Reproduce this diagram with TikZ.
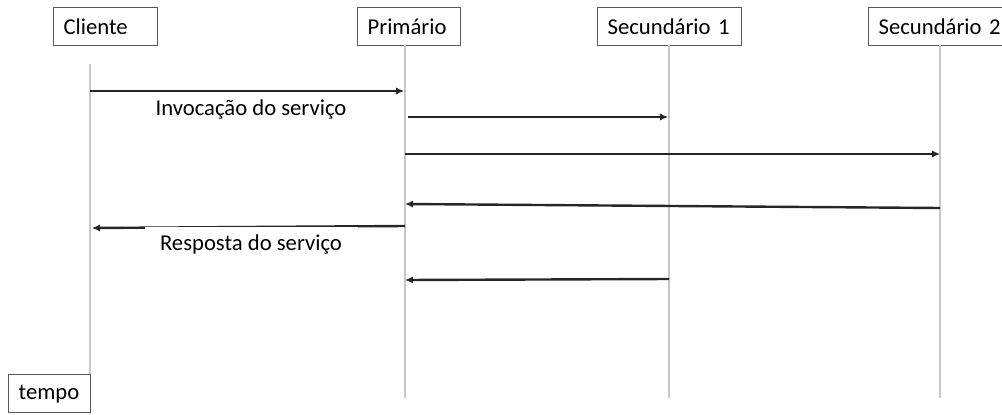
\documentclass[tikz,border=0pt]{standalone}
\usepackage{fontspec}
\setmainfont{Carlito}
\usetikzlibrary{arrows.meta}

\begin{document}
\begin{tikzpicture}[x=0.75pt, y=-0.75pt,
    actorbox/.style={draw=black!65, line width=1pt, fill=white, anchor=north west,
        inner xsep=7.5pt, inner ysep=0pt, minimum height=28.5pt, align=left,
        font=\fontsize{17}{20}\selectfont},
    lifeline/.style={draw=black!22, line width=1.2pt},
    msg/.style={draw=black!85, line width=1.8pt, -{Latex[length=6pt,width=5.5pt]}},
    msglabel/.style={fill=white, inner sep=0pt, minimum height=27pt, minimum width=159.75pt,
        font=\fontsize{17}{20}\selectfont}]
    % Frame of the picture
    \useasboundingbox (0,0) rectangle (1002,414);

    % Participants
    \node[actorbox, text width=63pt] (cliente) at (53,7) {Cliente};
    \node[actorbox, text width=62.25pt] (primario) at (357,7) {Primário};
    \node[actorbox, text width=93pt] (sec1) at (597,7) {Secundário 1};
    \node[actorbox, text width=100pt] (sec2) at (868,7) {Secundário 2};

    % Lifelines
    \coordinate (cliTop) at (90,64);
    \coordinate (cliBot) at (90,414);
    \coordinate (priTop) at (405,45);
    \coordinate (priBot) at (405,398);
    \coordinate (s1Top) at (669,45);
    \coordinate (s1Bot) at (669,398);
    \coordinate (s2Top) at (940,45);
    \coordinate (s2Bot) at (940,398);
    \draw[lifeline] (cliTop) -- (cliBot);
    \draw[lifeline] (priTop) -- (priBot);
    \draw[lifeline] (s1Top) -- (s1Bot);
    \draw[lifeline] (s2Top) -- (s2Bot);

    % Time box
    \node[actorbox, text width=46.5pt] (tempo) at (8,374) {tempo};

    % Message end points
    \coordinate (m1a) at (90,91);   \coordinate (m1b) at (404,91);
    \coordinate (m2a) at (408,117); \coordinate (m2b) at (668,117);
    \coordinate (m3a) at (405,154); \coordinate (m3b) at (940,154);
    \coordinate (m4a) at (940,208); \coordinate (m4b) at (405,204);
    \coordinate (m5a) at (405,226); \coordinate (m5b) at (92,228);
    \coordinate (m6a) at (669,279); \coordinate (m6b) at (405,280);

    % Messages
    \draw[msg] (m1a) -- (m1b);
    \draw[msg] (m2a) -- (m2b);
    \draw[msg] (m3a) -- (m3b);
    \draw[msg] (m4a) -- (m4b);
    \draw[msg] (m5a) -- (m5b);
    \draw[msg] (m6a) -- (m6b);

    % Labels
    \node[msglabel] (invoc) at (251,110) {Invocação do serviço};
    \node[msglabel] (resp) at (251,245) {Resposta do serviço};
\end{tikzpicture}
\end{document}
